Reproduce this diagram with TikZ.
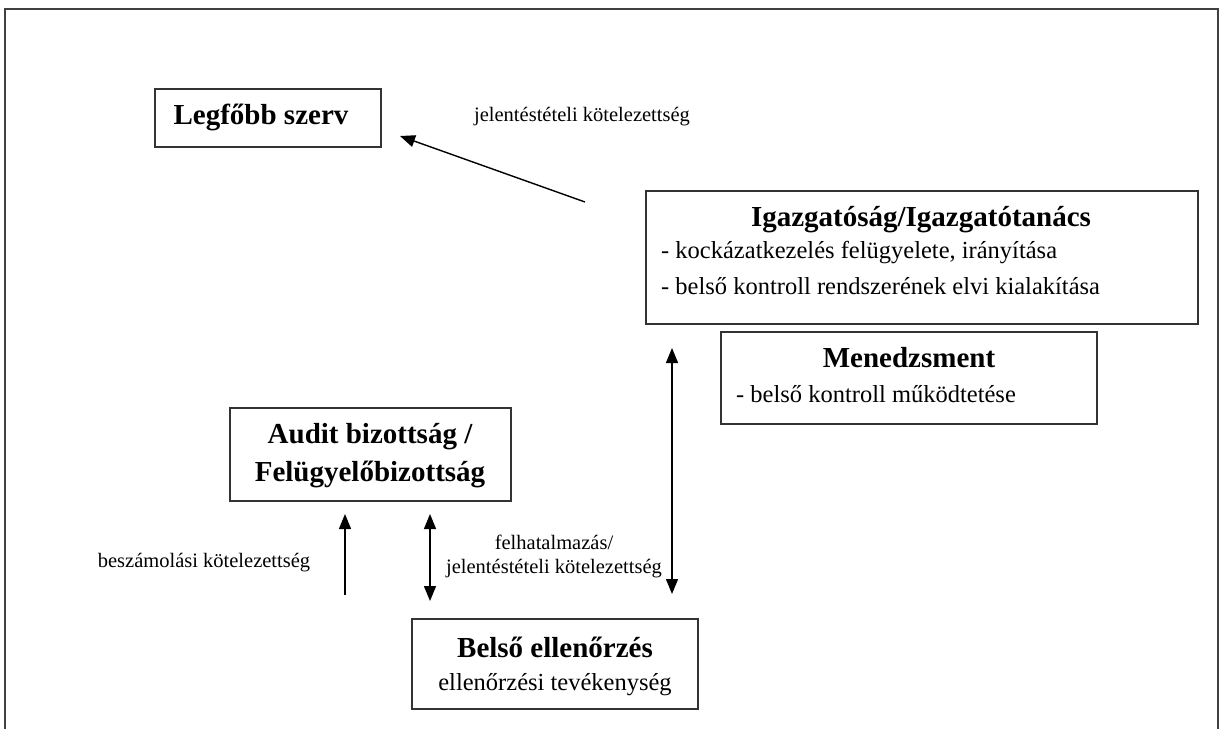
\documentclass[tikz,border=0pt]{standalone}
\usepackage{fontspec}
\setmainfont{Liberation Serif}
\usetikzlibrary{arrows.meta}
\begin{document}
\begin{tikzpicture}[x=1pt,y=-1pt,
  box/.style={draw=black!80,line width=1.4pt,inner sep=0pt},
  title/.style={font=\fontsize{29}{38}\selectfont\bfseries,inner sep=0pt,align=center},
  body/.style={font=\fontsize{24.5}{28}\selectfont,inner sep=0pt},
  small/.style={font=\fontsize{20.5}{24}\selectfont,inner sep=0pt,align=center},
  arr/.style={line width=1.4pt,-{Triangle[length=15pt,width=12pt]}},
  darr/.style={line width=1.4pt,{Triangle[length=15pt,width=12pt]}-{Triangle[length=15pt,width=12pt]}}]
 \useasboundingbox (0,0) rectangle (1223,729);
 \draw[black!75,line width=1.5pt] (5,729) -- (5,9) -- (1218,9) -- (1218,729);

 % boxes
 \node[box,minimum width=226pt,minimum height=58pt] (legfobb) at (268,118) {};
 \node[title] (legfobbtxt) at (261,117) {Legfőbb szerv};

 \node[box,minimum width=552pt,minimum height=133pt] (igazg) at (922,257.5) {};
 \node[title] (igazgtxt) at (921,220) {Igazgatóság/Igazgatótanács};
 \node[body,anchor=west] (igazg1) at (661,253) {- kockázatkezelés felügyelete, irányítása};
 \node[body,anchor=west] (igazg2) at (661,286) {- belső kontroll rendszerének elvi kialakítása};

 \node[box,minimum width=376pt,minimum height=92pt] (menedzs) at (909,378) {};
 \node[title] (menedzstxt) at (909,358) {Menedzsment};
 \node[body,anchor=west] (menedzs1) at (736,394) {- belső kontroll működtetése};

 \node[box,minimum width=281pt,minimum height=93pt] (audit) at (370.5,454.5) {};
 \node[title] (audittxt) at (370,456) {Audit bizottság /\\Felügyelőbizottság};

 \node[box,minimum width=286pt,minimum height=90pt] (belso) at (555,664) {};
 \node[title] (belsotxt) at (555,647) {Belső ellenőrzés};
 \node[body] (belso1) at (555,685) {ellenőrzési tevékenység};

 % labels
 \node[small] (jelent) at (582,117) {jelentéstételi kötelezettség};
 \node[small] (beszam) at (204,563) {beszámolási kötelezettség};
 \node[small] (felhat) at (554,556) {felhatalmazás/\\jelentéstételi kötelezettség};

 % arrows
 \coordinate (a1) at (585,202);
 \coordinate (a2) at (400,136);
 \coordinate (b1) at (672,348);
 \coordinate (b2) at (672,594);
 \coordinate (c1) at (345,595);
 \coordinate (c2) at (345,514);
 \coordinate (d1) at (430,514);
 \coordinate (d2) at (430,601);
 \draw[arr] (a1) -- (a2);
 \draw[darr] (b1) -- (b2);
 \draw[arr] (c1) -- (c2);
 \draw[darr] (d1) -- (d2);
\end{tikzpicture}
\end{document}
